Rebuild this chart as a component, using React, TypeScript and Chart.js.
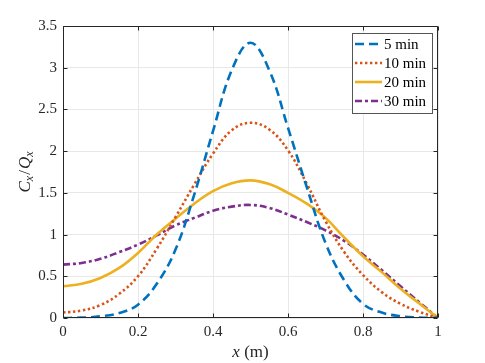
import React, { useEffect, useRef } from "react";
import { Chart, registerables } from "chart.js";

Chart.register(...registerables);

// ---- data ----
const xValues = [0, 0.05, 0.1, 0.15, 0.2, 0.25, 0.3, 0.35, 0.4, 0.45, 0.5, 0.55, 0.6, 0.65, 0.7, 0.75, 0.8, 0.85, 0.9, 0.95, 1];
const series5min = [0, 0.004, 0.02, 0.06, 0.16, 0.41, 0.82, 1.48, 2.24, 2.97, 3.3, 2.97, 2.28, 1.57, 0.9, 0.45, 0.17, 0.065, 0.022, 0.006, 0];
const series10min = [0.065, 0.09, 0.155, 0.29, 0.5, 0.83, 1.21, 1.6, 1.97, 2.25, 2.34, 2.26, 2.01, 1.61, 1.16, 0.79, 0.515, 0.31, 0.17, 0.075, 0];
const series20min = [0.38, 0.41, 0.48, 0.6, 0.78, 1.0, 1.19, 1.37, 1.52, 1.615, 1.65, 1.605, 1.5, 1.37, 1.2, 0.965, 0.74, 0.55, 0.35, 0.175, 0];
const series30min = [0.64, 0.66, 0.71, 0.79, 0.88, 0.99, 1.11, 1.2, 1.285, 1.335, 1.355, 1.32, 1.24, 1.15, 1.05, 0.925, 0.76, 0.575, 0.38, 0.19, 0];
const seriesLabels = ["5 min", "10 min", "20 min", "30 min"];
const xTickValues = [0, 0.2, 0.4, 0.6, 0.8, 1];
const xTickLabels = ["0", "0.2", "0.4", "0.6", "0.8", "1"];
const yTickValues = [0, 0.5, 1, 1.5, 2, 2.5, 3, 3.5];
const yTickLabels = ["0", "0.5", "1", "1.5", "2", "2.5", "3", "3.5"];

const FONT = '"Liberation Serif", "Times New Roman", serif';
const AXIS_COLOR = "#262626";

function labelFor(values: number[], labels: string[], v: number) {
  for (let i = 0; i < values.length; i++) {
    if (Math.abs(values[i] - v) < 1e-6) return labels[i];
  }
  return "";
}

const framePlugin = {
  id: "frame",
  afterDatasetsDraw(chart: any) {
    const { ctx, chartArea } = chart;
    const xs = chart.scales.x;
    const ys = chart.scales.y;
    const L = Math.round(chartArea.left) + 0.5;
    const R = Math.round(chartArea.right) - 0.5;
    const T = Math.round(chartArea.top) + 0.5;
    const B = Math.round(chartArea.bottom) - 0.5;
    ctx.save();
    ctx.strokeStyle = AXIS_COLOR;
    ctx.lineWidth = 1;
    ctx.setLineDash([]);
    ctx.beginPath();
    ctx.rect(L, T, R - L, B - T);
    const tl = 4;
    xTickValues.forEach((v) => {
      const px = Math.round(xs.getPixelForValue(v)) + 0.5;
      ctx.moveTo(px, B);
      ctx.lineTo(px, B - tl);
      ctx.moveTo(px, T);
      ctx.lineTo(px, T + tl);
    });
    yTickValues.forEach((v) => {
      const py = Math.round(ys.getPixelForValue(v)) + 0.5;
      ctx.moveTo(L, py);
      ctx.lineTo(L + tl, py);
      ctx.moveTo(R, py);
      ctx.lineTo(R - tl, py);
    });
    ctx.stroke();
    ctx.restore();
  },
  afterDraw(chart: any) {
    const { ctx, chartArea } = chart;
    ctx.save();
    // legend
    const bx = 352, by = 33, bw = 80, bh = 80;
    ctx.fillStyle = "#ffffff";
    ctx.fillRect(bx, by, bw, bh);
    ctx.strokeStyle = "#555555";
    ctx.lineWidth = 1;
    ctx.setLineDash([]);
    ctx.strokeRect(bx + 0.5, by + 0.5, bw, bh);
    chart.data.datasets.forEach((ds: any, i: number) => {
      const yy = 44 + i * 19;
      ctx.save();
      ctx.strokeStyle = ds.borderColor;
      ctx.lineWidth = ds.borderWidth;
      ctx.setLineDash(ds.borderDash || []);
      ctx.beginPath();
      ctx.moveTo(355, yy);
      ctx.lineTo(382, yy);
      ctx.stroke();
      ctx.restore();
      ctx.fillStyle = "#000000";
      ctx.font = `15px ${FONT}`;
      ctx.textAlign = "left";
      ctx.textBaseline = "middle";
      ctx.fillText(ds.label, 384, yy + 1);
    });

    // x axis title: x (m)
    ctx.fillStyle = AXIS_COLOR;
    ctx.textBaseline = "alphabetic";
    ctx.textAlign = "left";
    const cx = (chartArea.left + chartArea.right) / 2;
    const italic = `italic 17px ${FONT}`;
    const upright = `17px ${FONT}`;
    ctx.font = italic;
    const wx = ctx.measureText("x").width;
    ctx.font = upright;
    const wm = ctx.measureText(" (m)").width;
    const sx = cx - (wx + wm) / 2;
    const baseY = 357;
    ctx.font = italic;
    ctx.fillText("x", sx, baseY);
    ctx.font = upright;
    ctx.fillText(" (m)", sx + wx, baseY);

    // y axis title: C_x / Q_x
    const cy = (chartArea.top + chartArea.bottom) / 2;
    ctx.translate(30, cy);
    ctx.rotate(-Math.PI / 2);
    const sub = `italic 12px ${FONT}`;
    const parts = [
      { t: "C", f: italic, dy: 0 },
      { t: "x", f: sub, dy: 3 },
      { t: "/", f: upright, dy: 0 },
      { t: "Q", f: italic, dy: 0 },
      { t: "x", f: sub, dy: 3 },
    ];
    let total = 0;
    parts.forEach((p) => {
      ctx.font = p.f;
      total += ctx.measureText(p.t).width + (p.t === "/" ? 2 : 0);
    });
    let px = -total / 2;
    parts.forEach((p) => {
      ctx.font = p.f;
      const w = ctx.measureText(p.t).width;
      if (p.t === "/") px += 1;
      ctx.fillText(p.t, px, p.dy);
      px += w + (p.t === "/" ? 1 : 0);
    });
    ctx.restore();
  },
};

export default function App() {
  const canvasRef = useRef<HTMLCanvasElement | null>(null);

  useEffect(() => {
    if (!canvasRef.current) return;
    const mk = (ys: number[]) => xValues.map((x, i) => ({ x, y: ys[i] }));
    const common = { pointRadius: 0, fill: false, borderWidth: 2.6, tension: 0.4 };
    const chart = new Chart(canvasRef.current, {
      type: "line",
      data: {
        datasets: [
          { ...common, label: seriesLabels[0], data: mk(series5min), borderColor: "#0072BD", borderDash: [9, 5] },
          { ...common, label: seriesLabels[1], data: mk(series10min), borderColor: "#D95319", borderDash: [2.4, 2.6] },
          { ...common, label: seriesLabels[2], data: mk(series20min), borderColor: "#EDB120", borderDash: [] },
          { ...common, label: seriesLabels[3], data: mk(series30min), borderColor: "#7E2F8E", borderDash: [7, 3, 3, 3] },
        ],
      },
      options: {
        responsive: false,
        animation: false,
        events: [],
        layout: { padding: { left: 0, top: 26, right: 47, bottom: 0 } },
        plugins: {
          legend: { display: false },
          tooltip: { enabled: false },
          title: { display: false },
        },
        scales: {
          x: {
            type: "linear",
            min: 0,
            max: 1,
            afterFit: (scale: any) => {
              scale.height = 45;
            },
            afterBuildTicks: (scale: any) => {
              scale.ticks = xTickValues.map((v) => ({ value: v }));
            },
            ticks: {
              padding: 5,
              color: AXIS_COLOR,
              font: { family: FONT, size: 15 },
              maxRotation: 0,
              callback: (v: any) => labelFor(xTickValues, xTickLabels, Number(v)),
            },
            grid: { color: "#e8e8e8", drawTicks: false, lineWidth: 1 },
            border: { display: false },
          },
          y: {
            type: "linear",
            min: 0,
            max: 3.5,
            afterFit: (scale: any) => {
              scale.width = 63;
            },
            afterBuildTicks: (scale: any) => {
              scale.ticks = yTickValues.map((v) => ({ value: v }));
            },
            ticks: {
              padding: 6,
              color: AXIS_COLOR,
              font: { family: FONT, size: 15 },
              callback: (v: any) => labelFor(yTickValues, yTickLabels, Number(v)),
            },
            grid: { color: "#e8e8e8", drawTicks: false, lineWidth: 1 },
            border: { display: false },
          },
        },
      },
      plugins: [framePlugin],
    });
    return () => chart.destroy();
  }, []);

  return (
    <div style={{ position: "fixed", left: 0, top: 0, width: 485, height: 363, background: "#fff" }}>
      <canvas ref={canvasRef} width={485} height={363} style={{ width: 485, height: 363, display: "block" }} />
    </div>
  );
}
